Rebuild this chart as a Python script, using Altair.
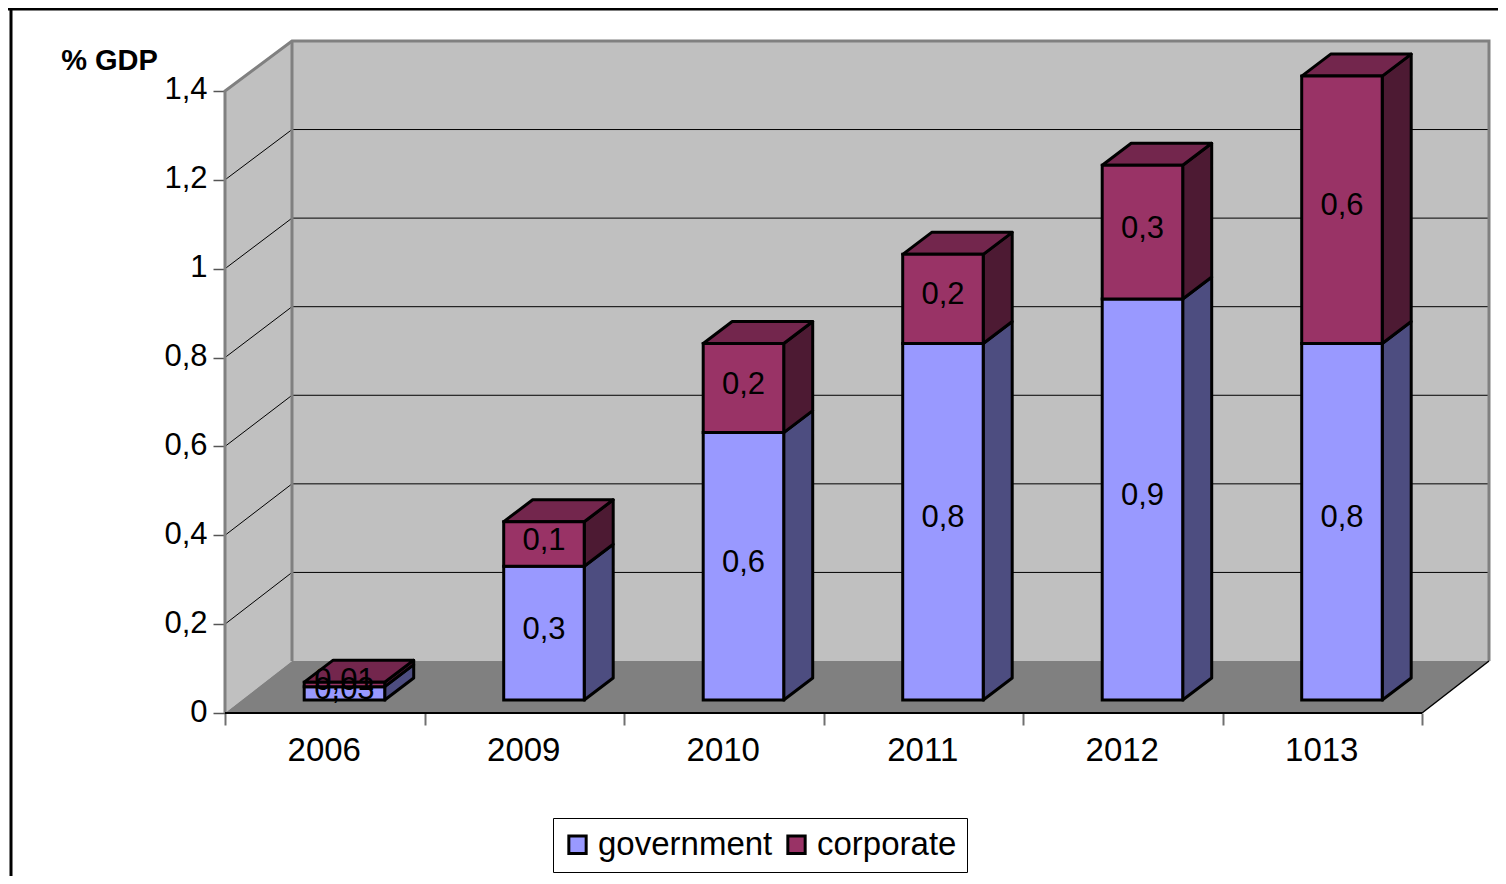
import altair as alt
import pandas as pd

categories = ["2006", "2009", "2010", "2011", "2012", "1013"]
government = [0.03, 0.3, 0.6, 0.8, 0.9, 0.8]
corporate = [0.01, 0.1, 0.2, 0.2, 0.3, 0.6]
y_ticks = [0, 0.2, 0.4, 0.6, 0.8, 1, 1.2, 1.4]
series_names = ["government", "corporate"]
front_colors = ["#9999FF", "#993366"]
side_colors = ["#4D4D80", "#4D1A33"]
top_color = "#73264D"

# projection of the oblique view: category units on x, value units on y
PX_X = 199.5
PX_Y = 444.3
W_PX, H_PX = 1264, 672
wall_dx, wall_dy = 67 / PX_X, 52 / PX_Y
bar_w, bar_dx, bar_dy = 80.5 / PX_X, 29 / PX_X, 22 / PX_Y
lift_x, lift_y = 19.7 / PX_X, 13 / PX_Y
bar_stretch = 1.003
back_stretch = 0.9968
n = len(categories)
top = y_ticks[-1]

x_scale = alt.Scale(domain=[0, W_PX / PX_X], nice=False, zero=False)
y_scale = alt.Scale(domain=[0, H_PX / PX_Y], nice=False, zero=False)

FONT = "Liberation Sans"

y_axis = alt.Axis(
    values=y_ticks, labelExpr="replace(format(datum.value, '.1~f'), '.', ',')",
    domain=False, grid=False, tickColor="#555555", tickWidth=1.5, tickSize=12,
    labelPadding=6, labelFont=FONT, labelFontSize=31, labelColor="black", labelOffset=-1,
    title="% GDP", titleFont=FONT, titleFontSize=29, titleFontWeight="bold", titleColor="black",
    titleAngle=0, titleX=-116, titleY=19, titleAlign="center", titleBaseline="middle",
)
x_labels = "[" + ",".join(f"'{c}'" for c in categories) + "]"
x_axis = alt.Axis(
    values=[k / 2 for k in range(2 * n + 1)],
    labelExpr=f"datum.value % 1 ? {x_labels}[floor(datum.value)] : ''",
    domain=False, grid=False, tickColor="#707070", tickWidth=2, tickSize=12,
    tickOpacity={"condition": {"test": "datum.value % 1 != 0", "value": 0}, "value": 1},
    labelPadding=9, labelFont=FONT, labelFontSize=33, labelColor="black", labelOffset=-1,
    labelFlush=False, labelOverlap=False, title=None,
)


def X(field="x"):
    return alt.X(f"{field}:Q", scale=x_scale, axis=x_axis)


def Y(field="y"):
    return alt.Y(f"{field}:Q", scale=y_scale, axis=y_axis, stack=None)


def fmt(v):
    return str(v).replace(".", ",")


back_top = top * back_stretch + wall_dy

# walls
left_wall = pd.DataFrame([
    dict(id="l", fill="#C0C0C0", x=0, y=0, y2=top),
    dict(id="l", fill="#C0C0C0", x=wall_dx, y=wall_dy, y2=back_top),
])
floor = pd.DataFrame([
    dict(id="f", fill="#808080", y=0, x=0, x2=n),
    dict(id="f", fill="#808080", y=wall_dy, x=wall_dx, x2=n + wall_dx),
])
back_wall = pd.DataFrame([dict(x=wall_dx, x2=n + wall_dx, y=wall_dy, y2=back_top)])

grid_rows = []
for t in y_ticks[1:-1]:
    grid_rows += [
        dict(id=t, o=0, x=0, y=t),
        dict(id=t, o=1, x=wall_dx, y=t * back_stretch + wall_dy),
        dict(id=t, o=2, x=n + wall_dx, y=t * back_stretch + wall_dy),
    ]
grid = pd.DataFrame(grid_rows)

edge_rows = [
    dict(id="a", o=0, x=0, y=0), dict(id="a", o=1, x=0, y=top),
    dict(id="a", o=2, x=wall_dx, y=back_top), dict(id="a", o=3, x=n + wall_dx, y=back_top),
    dict(id="a", o=4, x=n + wall_dx, y=wall_dy),
    dict(id="b", o=0, x=wall_dx, y=wall_dy), dict(id="b", o=1, x=wall_dx, y=back_top),
]
edges = pd.DataFrame(edge_rows)
floor_edge = pd.DataFrame([dict(x=n, y=0), dict(x=n + wall_dx, y=wall_dy)])

# bars
sides, tops, fronts, labels = [], [], [], []
for i, cat in enumerate(categories):
    left = i + 0.5 + lift_x - bar_w / 2
    right = left + bar_w
    base = 0.0
    for s, values in enumerate([government, corporate]):
        v = values[i]
        y0 = lift_y + base * bar_stretch
        y1 = lift_y + (base + v) * bar_stretch
        base += v
        fronts.append(dict(series=series_names[s], x=left, x2=right, y=y0, y2=y1))
        labels.append(dict(x=i + 0.5 + lift_x, y=(y0 + y1) / 2, text=fmt(v)))
        key = f"{cat}-{s}"
        sides += [
            dict(id=key, fill=side_colors[s], x=right, y=y0, y2=y1),
            dict(id=key, fill=side_colors[s], x=right + bar_dx, y=y0 + bar_dy, y2=y1 + bar_dy),
        ]
        if s == 1:
            tops += [
                dict(id=key, fill=top_color, y=y1, x=left, x2=right),
                dict(id=key, fill=top_color, y=y1 + bar_dy, x=left + bar_dx, x2=right + bar_dx),
            ]
sides, tops, fronts, labels = map(pd.DataFrame, (sides, tops, fronts, labels))

base_axes = alt.Chart(back_wall).mark_rect(fill="#C0C0C0").encode(
    x=X(), x2="x2:Q", y=Y(), y2="y2:Q",
)
wall_left = alt.Chart(left_wall).mark_area(orient="vertical").encode(
    x=X(), y=Y(), y2="y2:Q", fill=alt.Fill("fill:N", scale=None), detail="id:N"
)
wall_floor = alt.Chart(floor).mark_area(orient="horizontal").encode(
    x=X(), x2="x2:Q", y=Y(), fill=alt.Fill("fill:N", scale=None), detail="id:N"
)
grid_lines = alt.Chart(grid).mark_line(color="black", strokeWidth=1).encode(
    x=X(), y=Y(), detail="id:N", order="o:Q"
)
edge_lines = alt.Chart(edges).mark_line(color="#808080", strokeWidth=3).encode(
    x=X(), y=Y(), detail="id:N", order="o:Q"
)
floor_right = alt.Chart(floor_edge).mark_line(color="black", strokeWidth=1.5).encode(x=X(), y=Y())
floor_front = alt.Chart(pd.DataFrame([dict(x=0, y=0), dict(x=n, y=0)])).mark_line(
    color="black", strokeWidth=2
).encode(x=X(), y=Y())

bar_sides = alt.Chart(sides).mark_area(
    orient="vertical", stroke="black", strokeWidth=3, strokeJoin="round"
).encode(
    x=X(), y=Y(), y2="y2:Q", fill=alt.Fill("fill:N", scale=None), detail="id:N"
)
bar_tops = alt.Chart(tops).mark_area(
    orient="horizontal", stroke="black", strokeWidth=3, strokeJoin="round"
).encode(
    x=X(), x2="x2:Q", y=Y(), fill=alt.Fill("fill:N", scale=None), detail="id:N"
)
bar_fronts = alt.Chart(fronts).mark_rect(stroke="black", strokeWidth=3).encode(
    x=X(), x2="x2:Q", y=Y(), y2="y2:Q",
    color=alt.Color(
        "series:N",
        scale=alt.Scale(domain=series_names, range=front_colors),
        legend=alt.Legend(
            orient="none", legendX=328, legendY=777, direction="horizontal", columns=2,
            title=None, fillColor="white", strokeColor="black", padding=10,
            labelFont=FONT, labelFontSize=33, labelColor="black", labelOffset=4,
            symbolType="square", symbolSize=300, symbolStrokeColor="black", symbolOffset=-2,
            symbolStrokeWidth=3, symbolOpacity=1, columnPadding=8, labelLimit=400,
        ),
    ),
)
bar_labels = alt.Chart(labels).mark_text(
    font=FONT, fontSize=31, color="black", baseline="middle", align="center", dy=-3.5
).encode(x=X(), y=Y(), text="text:N")

frame_top = alt.Chart(pd.DataFrame([{"k": 0}])).mark_rule(color="black", strokeWidth=3).encode(
    x=alt.value(-217), x2=alt.value(1281), y=alt.value(-32)
)
frame_left = alt.Chart(pd.DataFrame([{"k": 0}])).mark_rule(color="black", strokeWidth=3).encode(
    x=alt.value(-214), y=alt.value(-32), y2=alt.value(843)
)

chart = alt.layer(
    base_axes, wall_left, wall_floor, grid_lines, edge_lines, floor_front, floor_right,
    bar_sides, bar_tops, bar_fronts, bar_labels, frame_top, frame_left,
).properties(
    width=W_PX, height=H_PX,
    padding={"left": 217, "top": 33, "right": 9, "bottom": 163},
    autosize=alt.AutoSizeParams(type="none"),
).configure_view(stroke=None).configure_axis(zindex=1)

chart.save("out.html", embed_options={"renderer": "svg", "actions": False})
